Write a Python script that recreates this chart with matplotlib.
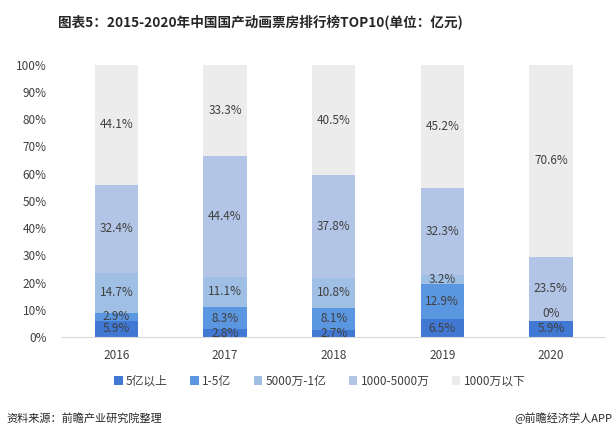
import numpy as np
import matplotlib
matplotlib.use("Agg")
import matplotlib.pyplot as plt

plt.rcParams['font.family'] = ['Noto Sans CJK SC', 'DejaVu Sans']

years = ["2016", "2017", "2018", "2019", "2020"]
series_names = ["5亿以上", "1-5亿", "5000万-1亿", "1000-5000万", "1000万以下"]
s_5yi_up = [5.9, 2.8, 2.7, 6.5, 5.9]
s_1_5yi = [2.9, 8.3, 8.1, 12.9, 0.0]
s_5000w_1yi = [14.7, 11.1, 10.8, 3.2, np.nan]
s_1000_5000w = [32.4, 44.4, 37.8, 32.3, 23.5]
s_1000w_down = [44.1, 33.3, 40.5, 45.2, 70.6]
yticks = [0, 10, 20, 30, 40, 50, 60, 70, 80, 90, 100]

colors = ["#4178d4", "#5b96e0", "#9fc0e4", "#b3c5e6", "#ececec"]
series = [s_5yi_up, s_1_5yi, s_5000w_1yi, s_1000_5000w, s_1000w_down]

fig = plt.figure(figsize=(6.15, 4.41), dpi=100)
ax = fig.add_axes([0.101, 0.236, 0.883, 0.617])

x = np.arange(len(years))
bottom = np.zeros(len(years))
for name, vals, c in zip(series_names, series, colors):
    v = np.array(vals, dtype=float)
    vv = np.nan_to_num(v)
    ax.bar(x, vv, width=0.40, bottom=bottom, color=c, label=name, zorder=2)
    for i in range(len(years)):
        if np.isnan(v[i]):
            continue
        if vv[i] == 0:
            # zero-height segment: put label just above its baseline
            ax.text(x[i], bottom[i] + 0.3, f"{v[i]:g}%", ha='center', va='bottom',
                    fontsize=8.5, color='#404040', zorder=3)
        else:
            ax.text(x[i], bottom[i] + vv[i] / 2, f"{v[i]:g}%", ha='center', va='center',
                    fontsize=8.5, color='#404040', zorder=3)
    bottom += vv

ax.set_xlim(-0.5, len(years) - 0.5)
ax.set_ylim(0, 100)
ax.set_yticks(yticks)
ax.set_yticklabels([f"{t}%" for t in yticks])
ax.set_xticks(x)
ax.set_xticklabels(years)
for s in ['top', 'right', 'left']:
    ax.spines[s].set_visible(False)
ax.spines['bottom'].set_color('#d9d9d9')
ax.tick_params(axis='both', length=0, labelsize=8.5, colors='#404040')
ax.tick_params(axis='y', pad=11)
ax.tick_params(axis='x', pad=9)

leg = fig.legend(loc='center', bbox_to_anchor=(0.52, 0.136), ncol=5, frameon=False,
                 fontsize=8.5, handlelength=0.7, handleheight=0.7, handletextpad=0.3,
                 columnspacing=1.9)
for t in leg.get_texts():
    t.set_color('#404040')

fig.text(0.423, 0.95, "图表5：2015-2020年中国国产动画票房排行榜TOP10(单位：亿元)",
         ha='center', va='center', fontsize=9.8, fontweight='bold', color='#262626')
fig.text(0.011, 0.052, "资料来源：前瞻产业研究院整理", ha='left', va='center',
         fontsize=8, color='#262626')
fig.text(0.995, 0.052, "@前瞻经济学人APP", ha='right', va='center',
         fontsize=8, color='#262626')

fig.savefig("out.png", dpi=100)
